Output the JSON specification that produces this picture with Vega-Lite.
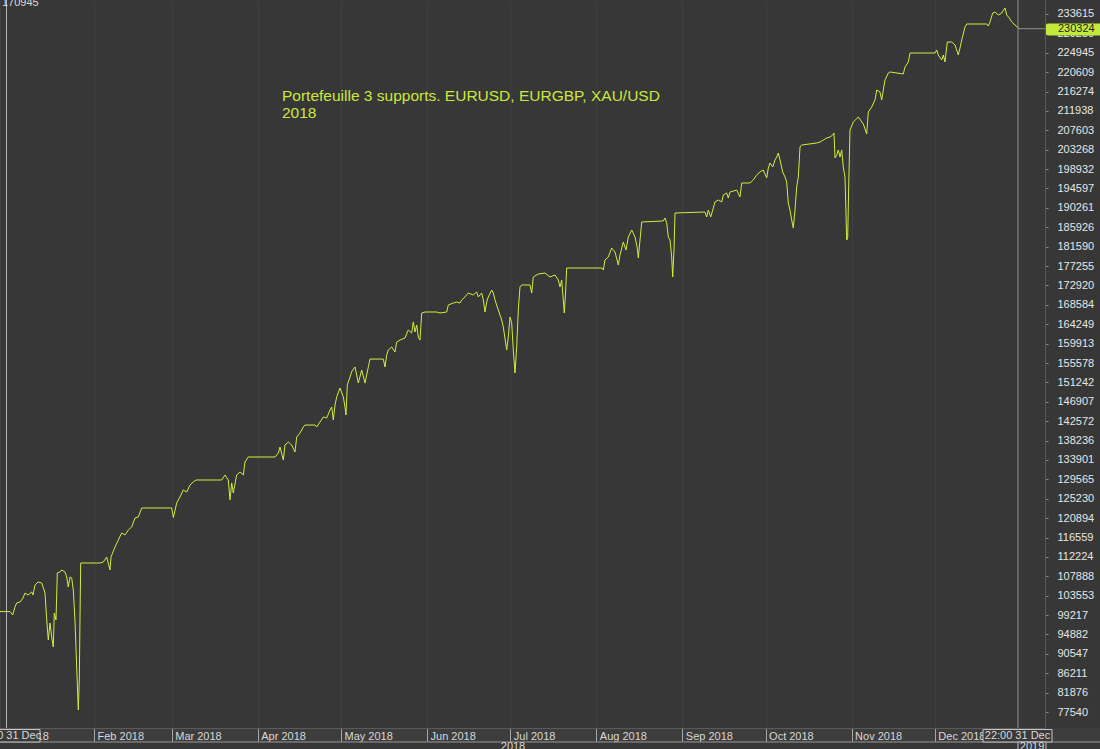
{
  "$schema": "https://vega.github.io/schema/vega-lite/v6.json",
  "width": 1045,
  "height": 728,
  "autosize": {"type": "none"},
  "padding": {"left": 0, "top": 0, "right": 55, "bottom": 21},
  "background": "#373737",
  "config": {"font": "Liberation Sans", "view": {"stroke": null}, "axis": {"labelOverlap": false}},
  "datasets": {
    "line": [
      {"date":"2017-12-29T02:50","value":100000},
      {"date":"2018-01-01T17:00","value":100000},
      {"date":"2018-01-02T16:30","value":99230},
      {"date":"2018-01-03T12:30","value":101020},
      {"date":"2018-01-04T03:00","value":101910},
      {"date":"2018-01-05T08:00","value":102140},
      {"date":"2018-01-06T10:00","value":103030},
      {"date":"2018-01-07T03:00","value":104150},
      {"date":"2018-01-08T05:00","value":103700},
      {"date":"2018-01-09T13:00","value":104380},
      {"date":"2018-01-10T00:00","value":103700},
      {"date":"2018-01-10T17:30","value":105940},
      {"date":"2018-01-11T19:30","value":106610},
      {"date":"2018-01-13T03:30","value":106390},
      {"date":"2018-01-13T14:40","value":105490},
      {"date":"2018-01-14T08:00","value":104150},
      {"date":"2018-01-14T23:00","value":98110},
      {"date":"2018-01-15T12:30","value":93640},
      {"date":"2018-01-16T03:20","value":97440},
      {"date":"2018-01-16T18:00","value":94310},
      {"date":"2018-01-17T07:45","value":92080},
      {"date":"2018-01-17T16:20","value":99680},
      {"date":"2018-01-18T07:10","value":98110},
      {"date":"2018-01-18T18:30","value":108620},
      {"date":"2018-01-19T17:45","value":108850},
      {"date":"2018-01-20T08:30","value":109290},
      {"date":"2018-01-21T13:00","value":108850},
      {"date":"2018-01-22T03:40","value":107730},
      {"date":"2018-01-22T17:30","value":105490},
      {"date":"2018-01-23T08:10","value":107730},
      {"date":"2018-01-23T23:00","value":107500},
      {"date":"2018-01-24T12:45","value":104820},
      {"date":"2018-01-25T03:20","value":98110},
      {"date":"2018-01-25T18:10","value":87600},
      {"date":"2018-01-26T08:00","value":77990},
      {"date":"2018-01-26T16:40","value":84700},
      {"date":"2018-01-26T22:45","value":98780},
      {"date":"2018-01-27T04:50","value":110860},
      {"date":"2018-02-03T03:40","value":110860},
      {"date":"2018-02-04T08:10","value":111080},
      {"date":"2018-02-05T13:40","value":112200},
      {"date":"2018-02-06T18:15","value":109290},
      {"date":"2018-02-07T03:00","value":112200},
      {"date":"2018-02-08T13:30","value":114440},
      {"date":"2018-02-09T18:00","value":116000},
      {"date":"2018-02-10T23:20","value":117570},
      {"date":"2018-02-12T03:50","value":117120},
      {"date":"2018-02-13T08:25","value":118240},
      {"date":"2018-02-14T13:50","value":118910},
      {"date":"2018-02-15T18:30","value":120920},
      {"date":"2018-02-16T22:50","value":121140},
      {"date":"2018-02-18T04:20","value":123160},
      {"date":"2018-02-28T23:45","value":123160},
      {"date":"2018-03-01T14:20","value":121030},
      {"date":"2018-03-02T19:00","value":124280},
      {"date":"2018-03-03T23:30","value":125620},
      {"date":"2018-03-05T04:05","value":127180},
      {"date":"2018-03-06T09:35","value":126730},
      {"date":"2018-03-07T14:10","value":128300},
      {"date":"2018-03-08T18:30","value":128970},
      {"date":"2018-03-09T18:00","value":129420},
      {"date":"2018-03-19T00:15","value":129420},
      {"date":"2018-03-20T04:50","value":130540},
      {"date":"2018-03-21T09:20","value":129420},
      {"date":"2018-03-22T00:00","value":124950},
      {"date":"2018-03-22T14:40","value":128750},
      {"date":"2018-03-23T04:30","value":126510},
      {"date":"2018-03-24T09:50","value":130540},
      {"date":"2018-03-25T14:25","value":131210},
      {"date":"2018-03-26T19:00","value":130540},
      {"date":"2018-03-27T09:50","value":133440},
      {"date":"2018-03-28T14:10","value":134560},
      {"date":"2018-04-07T05:15","value":134560},
      {"date":"2018-04-08T09:50","value":135450},
      {"date":"2018-04-09T00:30","value":136790},
      {"date":"2018-04-10T05:00","value":133890},
      {"date":"2018-04-10T19:40","value":137240},
      {"date":"2018-04-12T00:15","value":137910},
      {"date":"2018-04-13T05:35","value":137240},
      {"date":"2018-04-14T10:05","value":135680},
      {"date":"2018-04-15T01:00","value":139030},
      {"date":"2018-04-16T05:30","value":139920},
      {"date":"2018-04-17T09:50","value":141270},
      {"date":"2018-04-18T00:45","value":141710},
      {"date":"2018-04-21T15:10","value":141710},
      {"date":"2018-04-22T05:50","value":141270},
      {"date":"2018-04-23T10:20","value":142380},
      {"date":"2018-04-24T14:50","value":143500},
      {"date":"2018-04-25T20:25","value":143280},
      {"date":"2018-04-27T01:00","value":145070},
      {"date":"2018-04-27T15:35","value":145740},
      {"date":"2018-04-28T05:30","value":142830},
      {"date":"2018-04-28T20:10","value":146190},
      {"date":"2018-04-29T10:50","value":147980},
      {"date":"2018-04-30T15:20","value":149990},
      {"date":"2018-05-01T19:55","value":147980},
      {"date":"2018-05-02T10:35","value":145740},
      {"date":"2018-05-02T19:10","value":143950},
      {"date":"2018-05-03T06:30","value":150660},
      {"date":"2018-05-04T05:45","value":152450},
      {"date":"2018-05-04T23:00","value":153790},
      {"date":"2018-05-06T01:10","value":154680},
      {"date":"2018-05-07T05:45","value":151100},
      {"date":"2018-05-08T11:00","value":154010},
      {"date":"2018-05-09T15:35","value":151100},
      {"date":"2018-05-10T20:10","value":154680},
      {"date":"2018-05-11T10:50","value":156460},
      {"date":"2018-05-16T05:45","value":156460},
      {"date":"2018-05-16T20:35","value":154680},
      {"date":"2018-05-17T11:15","value":157370},
      {"date":"2018-05-18T01:10","value":158490},
      {"date":"2018-05-19T06:30","value":159160},
      {"date":"2018-05-20T11:00","value":158040},
      {"date":"2018-05-21T01:40","value":160270},
      {"date":"2018-05-22T06:15","value":160720},
      {"date":"2018-05-24T01:30","value":161170},
      {"date":"2018-05-25T06:00","value":162960},
      {"date":"2018-05-26T11:30","value":162290},
      {"date":"2018-05-27T01:10","value":164750},
      {"date":"2018-05-27T16:00","value":162510},
      {"date":"2018-05-28T06:40","value":164080},
      {"date":"2018-05-28T20:40","value":161390},
      {"date":"2018-05-29T11:15","value":160720},
      {"date":"2018-05-30T02:00","value":166760},
      {"date":"2018-05-31T06:30","value":166980},
      {"date":"2018-06-04T11:45","value":166980},
      {"date":"2018-06-05T16:20","value":166760},
      {"date":"2018-06-08T02:10","value":166980},
      {"date":"2018-06-08T16:00","value":168550},
      {"date":"2018-06-10T11:15","value":168990},
      {"date":"2018-06-11T16:35","value":169220},
      {"date":"2018-06-12T21:10","value":168990},
      {"date":"2018-06-13T12:00","value":169670},
      {"date":"2018-06-14T16:20","value":170340},
      {"date":"2018-06-15T20:55","value":171230},
      {"date":"2018-06-17T16:20","value":170780},
      {"date":"2018-06-18T21:40","value":171450},
      {"date":"2018-06-19T11:30","value":170340},
      {"date":"2018-06-20T16:50","value":171230},
      {"date":"2018-06-21T06:40","value":169670},
      {"date":"2018-06-21T21:20","value":166980},
      {"date":"2018-06-22T12:00","value":169220},
      {"date":"2018-06-23T02:00","value":170340},
      {"date":"2018-06-24T07:25","value":171900},
      {"date":"2018-06-24T21:10","value":171230},
      {"date":"2018-06-25T12:00","value":169670},
      {"date":"2018-06-26T16:20","value":167430},
      {"date":"2018-06-27T21:50","value":165190},
      {"date":"2018-06-28T11:45","value":163630},
      {"date":"2018-06-29T17:00","value":158490},
      {"date":"2018-06-30T07:00","value":161390},
      {"date":"2018-06-30T21:40","value":165860},
      {"date":"2018-07-01T12:15","value":164520},
      {"date":"2018-07-02T02:10","value":158490},
      {"date":"2018-07-02T16:50","value":153340},
      {"date":"2018-07-03T07:40","value":159160},
      {"date":"2018-07-03T21:20","value":167430},
      {"date":"2018-07-04T12:00","value":172600},
      {"date":"2018-07-05T02:50","value":173020},
      {"date":"2018-07-08T02:40","value":173020},
      {"date":"2018-07-08T17:20","value":171230},
      {"date":"2018-07-09T07:10","value":174810},
      {"date":"2018-07-11T02:25","value":175480},
      {"date":"2018-07-13T12:15","value":175700},
      {"date":"2018-07-15T07:40","value":174810},
      {"date":"2018-07-17T02:50","value":175260},
      {"date":"2018-07-18T07:25","value":174140},
      {"date":"2018-07-18T22:05","value":172570},
      {"date":"2018-07-19T12:45","value":174140},
      {"date":"2018-07-20T02:40","value":169670},
      {"date":"2018-07-20T11:20","value":166760},
      {"date":"2018-07-20T23:20","value":171900},
      {"date":"2018-07-21T08:00","value":176820},
      {"date":"2018-08-02T22:45","value":176820},
      {"date":"2018-08-03T12:30","value":176370},
      {"date":"2018-08-04T03:20","value":178610},
      {"date":"2018-08-05T07:40","value":179280},
      {"date":"2018-08-06T13:10","value":181290},
      {"date":"2018-08-07T17:45","value":180400},
      {"date":"2018-08-08T22:20","value":177490},
      {"date":"2018-08-09T13:00","value":179730},
      {"date":"2018-08-10T17:30","value":182630},
      {"date":"2018-08-11T16:50","value":180850},
      {"date":"2018-08-12T12:45","value":183750},
      {"date":"2018-08-13T18:10","value":185320},
      {"date":"2018-08-14T22:50","value":183750},
      {"date":"2018-08-15T18:30","value":181290},
      {"date":"2018-08-16T03:20","value":179060},
      {"date":"2018-08-16T18:00","value":183080},
      {"date":"2018-08-17T08:40","value":187110},
      {"date":"2018-08-25T03:20","value":187330},
      {"date":"2018-08-25T18:10","value":188000},
      {"date":"2018-08-26T08:50","value":186880},
      {"date":"2018-08-26T22:50","value":183750},
      {"date":"2018-08-27T13:25","value":183080},
      {"date":"2018-08-28T04:05","value":179280},
      {"date":"2018-08-28T12:45","value":174810},
      {"date":"2018-08-29T00:00","value":180850},
      {"date":"2018-08-29T08:40","value":189120},
      {"date":"2018-09-09T04:05","value":189340},
      {"date":"2018-09-09T18:45","value":188220},
      {"date":"2018-09-10T08:40","value":189790},
      {"date":"2018-09-11T05:30","value":188220},
      {"date":"2018-09-12T03:50","value":190230},
      {"date":"2018-09-12T18:30","value":191580},
      {"date":"2018-09-13T23:00","value":192030},
      {"date":"2018-09-15T04:30","value":191580},
      {"date":"2018-09-15T18:30","value":193140},
      {"date":"2018-09-16T23:45","value":193590},
      {"date":"2018-09-17T13:40","value":192470},
      {"date":"2018-09-18T04:20","value":193810},
      {"date":"2018-09-20T14:10","value":194260},
      {"date":"2018-09-21T18:40","value":192700},
      {"date":"2018-09-22T09:35","value":195830},
      {"date":"2018-09-25T09:20","value":195830},
      {"date":"2018-09-26T13:55","value":196500},
      {"date":"2018-09-27T19:10","value":197620},
      {"date":"2018-09-28T23:45","value":198290},
      {"date":"2018-09-30T04:20","value":198730},
      {"date":"2018-10-01T09:50","value":196940},
      {"date":"2018-10-01T23:35","value":199180},
      {"date":"2018-10-02T14:10","value":200300},
      {"date":"2018-10-03T13:40","value":199400},
      {"date":"2018-10-04T09:35","value":200970},
      {"date":"2018-10-05T00:15","value":201640},
      {"date":"2018-10-05T14:10","value":202540},
      {"date":"2018-10-06T04:50","value":200970},
      {"date":"2018-10-07T04:05","value":198290},
      {"date":"2018-10-08T00:00","value":197170},
      {"date":"2018-10-08T14:40","value":196050},
      {"date":"2018-10-09T04:30","value":191350},
      {"date":"2018-10-09T19:10","value":189790},
      {"date":"2018-10-10T09:50","value":187550},
      {"date":"2018-10-10T23:45","value":185760},
      {"date":"2018-10-11T14:25","value":189790},
      {"date":"2018-10-12T05:15","value":194930},
      {"date":"2018-10-12T19:00","value":197170},
      {"date":"2018-10-13T09:50","value":203880},
      {"date":"2018-10-14T00:30","value":204320},
      {"date":"2018-10-19T10:05","value":204770},
      {"date":"2018-10-20T14:40","value":204990},
      {"date":"2018-10-21T19:10","value":205440},
      {"date":"2018-10-23T00:40","value":205890},
      {"date":"2018-10-24T05:15","value":206110},
      {"date":"2018-10-25T04:35","value":206560},
      {"date":"2018-10-25T15:50","value":207010},
      {"date":"2018-10-26T00:30","value":201420},
      {"date":"2018-10-26T15:10","value":202090},
      {"date":"2018-10-27T05:00","value":203210},
      {"date":"2018-10-27T19:40","value":201640},
      {"date":"2018-10-28T10:20","value":203210},
      {"date":"2018-10-29T00:15","value":199400},
      {"date":"2018-10-29T14:50","value":197170},
      {"date":"2018-10-30T05:30","value":183080},
      {"date":"2018-10-30T14:10","value":183530},
      {"date":"2018-10-30T22:50","value":194930},
      {"date":"2018-10-31T10:05","value":207680},
      {"date":"2018-11-01T14:40","value":209470},
      {"date":"2018-11-03T10:05","value":210580},
      {"date":"2018-11-05T05:15","value":209020},
      {"date":"2018-11-06T10:35","value":206780},
      {"date":"2018-11-07T00:30","value":211700},
      {"date":"2018-11-08T05:45","value":212820},
      {"date":"2018-11-09T10:20","value":214390},
      {"date":"2018-11-10T01:10","value":216620},
      {"date":"2018-11-11T05:30","value":216170},
      {"date":"2018-11-11T20:25","value":214390},
      {"date":"2018-11-12T10:05","value":216620},
      {"date":"2018-11-13T01:00","value":218860},
      {"date":"2018-11-14T05:30","value":220420},
      {"date":"2018-11-14T20:10","value":220650},
      {"date":"2018-11-19T15:10","value":220200},
      {"date":"2018-11-20T05:45","value":221760},
      {"date":"2018-11-21T10:20","value":222880},
      {"date":"2018-11-22T01:10","value":224890},
      {"date":"2018-12-01T01:10","value":224890},
      {"date":"2018-12-01T16:05","value":225570},
      {"date":"2018-12-02T05:45","value":224450},
      {"date":"2018-12-03T11:15","value":223330},
      {"date":"2018-12-04T01:10","value":224450},
      {"date":"2018-12-04T15:50","value":222880},
      {"date":"2018-12-05T06:30","value":226240},
      {"date":"2018-12-05T11:45","value":227350},
      {"date":"2018-12-07T01:40","value":227350},
      {"date":"2018-12-08T06:15","value":226680},
      {"date":"2018-12-08T20:55","value":225570},
      {"date":"2018-12-09T10:50","value":224450},
      {"date":"2018-12-10T01:30","value":226010},
      {"date":"2018-12-10T16:20","value":227800},
      {"date":"2018-12-11T20:40","value":230710},
      {"date":"2018-12-12T11:30","value":231380},
      {"date":"2018-12-19T16:20","value":231380},
      {"date":"2018-12-20T06:15","value":230930},
      {"date":"2018-12-20T20:55","value":231830},
      {"date":"2018-12-21T20:25","value":233840},
      {"date":"2018-12-22T16:20","value":234060},
      {"date":"2018-12-23T20:40","value":233390},
      {"date":"2018-12-25T02:10","value":233840},
      {"date":"2018-12-26T06:45","value":234960},
      {"date":"2018-12-26T21:20","value":233390},
      {"date":"2018-12-27T19:55","value":232720},
      {"date":"2018-12-28T16:35","value":231830},
      {"date":"2018-12-29T21:10","value":231160},
      {"date":"2018-12-31T01:40","value":230480},
      {"date":"2018-12-31T10:15","value":230324}
    ]
  },
  "layer": [
    {
      "data": {"name": "line"},
      "mark": {"type": "line", "color": "#d0ee3c", "strokeWidth": 1},
      "encoding": {
        "x": {
          "field": "date", "type": "temporal",
          "scale": {"domain": [{"year":2017,"month":12,"date":29,"hours":2,"minutes":50},{"year":2019,"month":1,"date":9,"hours":16,"minutes":35}], "nice": false},
          "axis": {
            "orient": "bottom", "title": null, "tickCount": 40,
            "values": [{"year":2017,"month":12,"date":29,"hours":2,"minutes":50},{"year":2018,"month":2,"date":1},{"year":2018,"month":3,"date":1},{"year":2018,"month":4,"date":1},{"year":2018,"month":5,"date":1},{"year":2018,"month":6,"date":1},{"year":2018,"month":7,"date":1},{"year":2018,"month":8,"date":1},{"year":2018,"month":9,"date":1},{"year":2018,"month":10,"date":1},{"year":2018,"month":11,"date":1},{"year":2018,"month":12,"date":1}],
            "labelExpr": "datum.value < datetime(2018,0,1) ? 'Jan 2018' : timeFormat(datum.value, '%b %Y')",
            "labelAlign": "left", "labelBaseline": "middle", "labelOffset": 3, "labelPadding": -5,
            "tickSize": 13, "tickColor": "#a4a4a4", "domainColor": "#555555",
            "labelColor": "#d6d6d6", "labelFontSize": 11, "labelOverlap": false, "labelFlush": false, "labelBound": false,
            "grid": true, "gridColor": "#3f3f3f", "zindex": 0
          }
        },
        "y": {
          "field": "value", "type": "quantitative",
          "scale": {"domain": [73964, 236745], "nice": false, "zero": false},
          "axis": {
            "orient": "right", "title": null, "tickCount": 40,
            "values": [233615,229280,224945,220609,216274,211938,207603,203268,198932,194597,190261,185926,181590,177255,172920,168584,164249,159913,155578,151242,146907,142572,138236,133901,129565,125230,120894,116559,112224,107888,103553,99217,94882,90547,86211,81876,77540],
            "format": "d", "tickSize": 3, "tickColor": "#8a8a8a", "domainColor": "#5a5a5a",
            "labelColor": "#e6e6e6", "labelFontSize": 11, "labelPadding": 9, "labelOverlap": false,
            "labelBaseline": "middle", "grid": false, "zindex": 0
          }
        }
      }
    },
    {
      "data": {"values": [{"date":"2017-12-29T02:50","date2":"2019-01-30T00:00","value":73964,"value2":70834}], "format": {"parse": {"date":"date","date2":"date"}}},
      "mark": {"type": "rect", "fill": "#ffffff", "opacity": 0.03},
      "encoding": {"x": {"field":"date","type":"temporal"}, "x2": {"field":"date2"}, "y": {"field":"value","type":"quantitative"}, "y2": {"field":"value2"}}
    },
    {
      "data": {"values": [{"date":"2017-12-29T02:50","date2":"2019-01-30T00:00","value":70834}], "format": {"parse": {"date":"date","date2":"date"}}},
      "mark": {"type": "rule", "color": "#9a9a9a", "strokeWidth": 1},
      "encoding": {"x": {"field":"date","type":"temporal"}, "x2": {"field":"date2"}, "y": {"field":"value","type":"quantitative"}}
    },
    {
      "data": {"values": [{"date":"2017-12-31T11:00"}]},
      "mark": {"type": "rule", "color": "#b8b8b8", "strokeWidth": 1},
      "encoding": {"x": {"field":"date","type":"temporal"}}
    },
    {
      "data": {"values": [{"date":"2018-12-30T23:00"}]},
      "mark": {"type": "rule", "color": "#8e8e8e", "strokeWidth": 1},
      "encoding": {"x": {"field":"date","type":"temporal"}}
    },
    {
      "data": {"values": [{"date":"2018-12-30T23:00","date2":"2019-01-09T16:35","value":230324}], "format": {"parse": {"date":"date","date2":"date"}}},
      "mark": {"type": "rule", "color": "#8e8e8e", "strokeWidth": 1},
      "encoding": {"x": {"field":"date","type":"temporal"}, "x2": {"field":"date2"}, "y": {"field":"value","type":"quantitative"}}
    },
    {
      "data": {"values": [
        {"date":"2017-12-18T16:00","date2":"2018-01-12T12:45","value":73627,"value2":70834},
        {"date":"2018-12-18T08:25","date2":"2019-01-12T05:15","value":73627,"value2":70834},
        {"date":"2018-12-30T23:00","date2":"2019-01-10T01:10","value":70834,"value2":69000}
      ], "format": {"parse": {"date":"date","date2":"date"}}},
      "mark": {"type": "rect", "fill": "#3a3a3a", "stroke": "#c4c4c4", "strokeWidth": 1},
      "encoding": {"x": {"field":"date","type":"temporal"}, "x2": {"field":"date2"}, "y": {"field":"value","type":"quantitative"}, "y2": {"field":"value2"}}
    },
    {
      "data": {"values": [
        {"date":"2018-01-01T04:00","value":72175,"text":"22:00 31 Dec"},
        {"date":"2018-12-30T18:40","value":72175,"text":"22:00 31 Dec"},
        {"date":"2019-01-05T00:15","value":69825,"text":"2019"},
        {"date":"2018-07-01T23:30","value":69825,"text":"2018"}
      ]},
      "mark": {"type": "text", "align": "center", "baseline": "middle", "fontSize": 11, "color": "#d8d8d8"},
      "encoding": {"x": {"field":"date","type":"temporal"}, "y": {"field":"value","type":"quantitative"}, "text": {"field":"text"}}
    },
    {
      "data": {"values": [{"date":"2017-12-29T20:00","value":235403,"text":"170945"}]},
      "mark": {"type": "text", "align": "left", "baseline": "alphabetic", "fontSize": 11, "color": "#d8d8d8"},
      "encoding": {"x": {"field":"date","type":"temporal"}, "y": {"field":"value","type":"quantitative"}, "text": {"field":"text"}}
    },
    {
      "data": {"values": [{"date":"2019-01-10T01:10","date2":"2019-01-30T00:00","value":231490,"value2":228807}], "format": {"parse": {"date":"date","date2":"date"}}},
      "mark": {"type": "rect", "fill": "#c2ea3a", "cornerRadius": 2},
      "encoding": {"x": {"field":"date","type":"temporal"}, "x2": {"field":"date2"}, "y": {"field":"value","type":"quantitative"}, "y2": {"field":"value2"}}
    },
    {
      "data": {"values": [{"date":"2019-01-14T09:00","value":230150,"text":"230324"}]},
      "mark": {"type": "text", "align": "left", "baseline": "middle", "fontSize": 11, "color": "#1c1c1c"},
      "encoding": {"x": {"field":"date","type":"temporal"}, "y": {"field":"value","type":"quantitative"}, "text": {"field":"text"}}
    },
    {
      "data": {"values": [{"date":"2018-04-09T17:45","value":214050,"text":"Portefeuille 3 supports. EURUSD, EURGBP, XAU/USD\n2018"}]},
      "mark": {"type": "text", "align": "left", "baseline": "alphabetic", "fontSize": 15.5, "lineHeight": 17, "lineBreak": "\n", "color": "#cbe83c"},
      "encoding": {"x": {"field":"date","type":"temporal"}, "y": {"field":"value","type":"quantitative"}, "text": {"field":"text"}}
    }
  ]
}
